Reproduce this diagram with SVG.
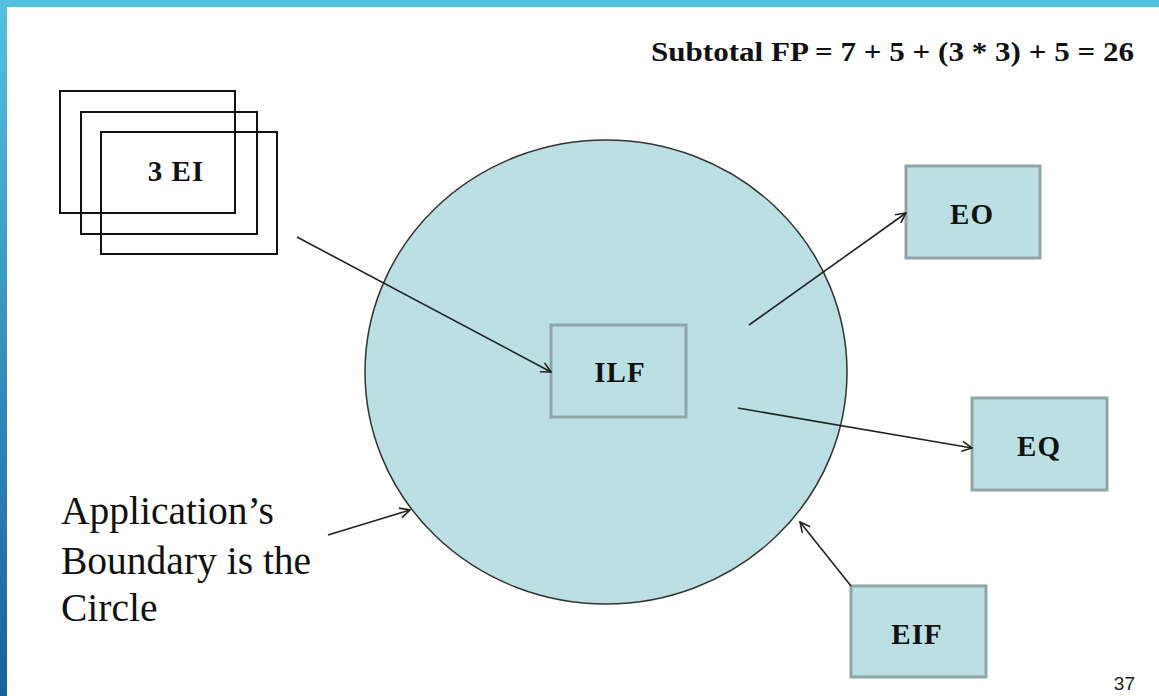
<svg xmlns="http://www.w3.org/2000/svg" width="1159" height="696" viewBox="0 0 1159 696">
<defs>
<linearGradient id="lb" x1="0" y1="0" x2="0" y2="1">
<stop offset="0" stop-color="#55c0e0"/>
<stop offset="1" stop-color="#17629c"/>
</linearGradient>
<marker id="ah" viewBox="0 0 12 12" refX="11" refY="6" markerWidth="12" markerHeight="12" markerUnits="userSpaceOnUse" orient="auto">
<path d="M1,1 L11,6 L1,11" fill="none" stroke="#222" stroke-width="1.6"/>
</marker>
<style>
.box{fill:#bbdfe3;stroke:#8fa6a8;stroke-width:3}
.ei{fill:none;stroke:#111;stroke-width:2}
.lbl{font-family:"Liberation Serif",serif;font-weight:bold;font-size:29px;letter-spacing:1px;fill:#111;text-anchor:middle}
.conn{stroke:#222;stroke-width:1.6;fill:none;marker-end:url(#ah)}
</style>
</defs>
<rect x="0" y="0" width="1159" height="696" fill="#fff"/>
<rect x="0" y="0" width="7" height="696" fill="url(#lb)"/>
<rect x="0" y="0" width="1159" height="7" fill="#55c0e0"/>
<text x="651" y="61" font-family="Liberation Serif,serif" font-weight="bold" font-size="27" fill="#111" textLength="483" lengthAdjust="spacingAndGlyphs">Subtotal FP = 7 + 5 + (3 * 3) + 5 = 26</text>
<g id="boundary">
<ellipse cx="606" cy="372" rx="241" ry="232" fill="#bbdfe3" stroke="#333" stroke-width="1.5"/>
</g>
<g id="ei">
<rect class="ei" x="60" y="91" width="175" height="122"/>
<rect class="ei" x="81" y="112" width="176" height="122"/>
<rect class="ei" x="101" y="132" width="176" height="122"/>
<text class="lbl" x="176" y="181">3 EI</text>
</g>
<g id="ilf">
<rect class="box" x="551" y="325" width="135" height="92"/>
<text class="lbl" x="620" y="382">ILF</text>
</g>
<g id="eo">
<rect class="box" x="906" y="166" width="134" height="92"/>
<text class="lbl" x="972" y="224">EO</text>
</g>
<g id="eq">
<rect class="box" x="972" y="398" width="135" height="92"/>
<text class="lbl" x="1039" y="456">EQ</text>
</g>
<g id="eif">
<rect class="box" x="851" y="586" width="135" height="91"/>
<text class="lbl" x="917" y="644">EIF</text>
</g>
<g id="note">
<text font-family="Liberation Serif,serif" font-size="39.5" fill="#111">
<tspan x="61" y="524">Application’s</tspan>
<tspan x="61" y="574">Boundary is the</tspan>
<tspan x="61" y="621">Circle</tspan>
</text>
</g>
<g id="connectors">
<line class="conn" x1="297" y1="237" x2="551" y2="372"/>
<line class="conn" x1="749" y1="325" x2="906" y2="213"/>
<line class="conn" x1="738" y1="408" x2="972" y2="448"/>
<line class="conn" x1="851" y1="586" x2="800" y2="522"/>
<line class="conn" x1="328" y1="535" x2="410" y2="510"/>
</g>
<text x="1135" y="690" font-family="Liberation Sans,sans-serif" font-size="19" fill="#222" text-anchor="end">37</text>
</svg>
